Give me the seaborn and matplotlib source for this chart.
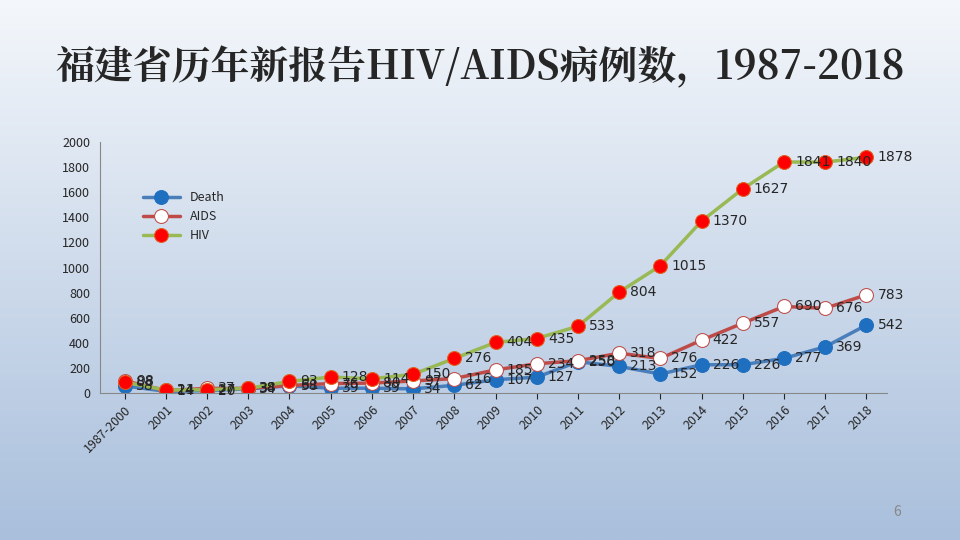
import matplotlib
matplotlib.use("Agg")
import matplotlib.pyplot as plt
import seaborn as sns
import numpy as np
import pandas as pd

years = ["1987-2000"] + [str(y) for y in range(2001, 2019)]
death = [58, 14, 20, 34, 58, 39, 39, 34, 62, 107, 127, 250, 213, 152, 226, 226, 277, 369, 542]
aids = [98, 21, 37, 38, 61, 76, 80, 97, 116, 185, 234, 258, 318, 276, 422, 557, 690, 676, 783]
hiv = [88, 24, 27, 38, 93, 128, 114, 150, 276, 404, 435, 533, 804, 1015, 1370, 1627, 1841, 1840, 1878]

sns.set_style("white")
plt.rcParams['font.family'] = ['Noto Sans CJK SC', 'DejaVu Sans']

fig = plt.figure(figsize=(9.6, 5.4), dpi=100)
bg = fig.add_axes([0, 0, 1, 1], zorder=-10)
grad = np.linspace(0, 1, 256).reshape(-1, 1)
from matplotlib.colors import LinearSegmentedColormap
cm = LinearSegmentedColormap.from_list("g", ["#f4f7fb", "#a9bfdc"])
bg.imshow(grad, aspect="auto", cmap=cm, extent=[0, 1, 0, 1], origin="upper")
bg.axis("off")

fig.text(0.5, 0.875, "福建省历年新报告HIV/AIDS病例数，1987-2018", ha="center", va="center",
         fontsize=28, family=['Noto Serif CJK SC', 'Noto Sans CJK SC', 'DejaVu Serif'], fontweight="bold")
fig.text(0.935, 0.045, "6", fontsize=10, color="#888888", ha="center")

ax = fig.add_axes([0.104, 0.272, 0.82, 0.465])
ax.patch.set_alpha(0)
x = np.arange(len(years))
df = pd.DataFrame({"x": x, "Death": death, "AIDS": aids, "HIV": hiv})
sns.lineplot(data=df, x="x", y="Death", ax=ax, color="#4a7ebb", lw=2.5, marker="o", ms=10,
             markerfacecolor="#1e6fc0", markeredgecolor="#1e6fc0", label="Death")
sns.lineplot(data=df, x="x", y="AIDS", ax=ax, color="#be4b48", lw=2.5, marker="o", ms=10,
             markerfacecolor="white", markeredgecolor="#be4b48", label="AIDS")
sns.lineplot(data=df, x="x", y="HIV", ax=ax, color="#98b954", lw=2.5, marker="o", ms=10,
             markerfacecolor="#ff0000", markeredgecolor="#e06020", label="HIV")
for s in (death, aids, hiv):
    for i, v in enumerate(s):
        ax.text(i + 0.27, v, str(v), fontsize=10, va="center", ha="left", family="DejaVu Sans")

ax.set_xlim(-0.6, 18.5)
ax.set_ylim(0, 2000)
ax.set_yticks(range(0, 2001, 200))
ax.set_xticks(x)
ax.set_xticklabels(years, rotation=45, ha="right", rotation_mode="anchor", fontsize=9)
ax.tick_params(axis="y", labelsize=9)
ax.tick_params(axis="x", length=4, direction="out", bottom=True)
ax.set_xlabel("")
ax.set_ylabel("")
for sp in ["top", "right"]:
    ax.spines[sp].set_visible(False)
ax.spines["left"].set_color("#888888")
ax.spines["bottom"].set_color("#888888")
ax.legend(loc="upper left", bbox_to_anchor=(0.04, 0.85), frameon=False, fontsize=9, handlelength=3)
fig.savefig("out.png", dpi=100)
